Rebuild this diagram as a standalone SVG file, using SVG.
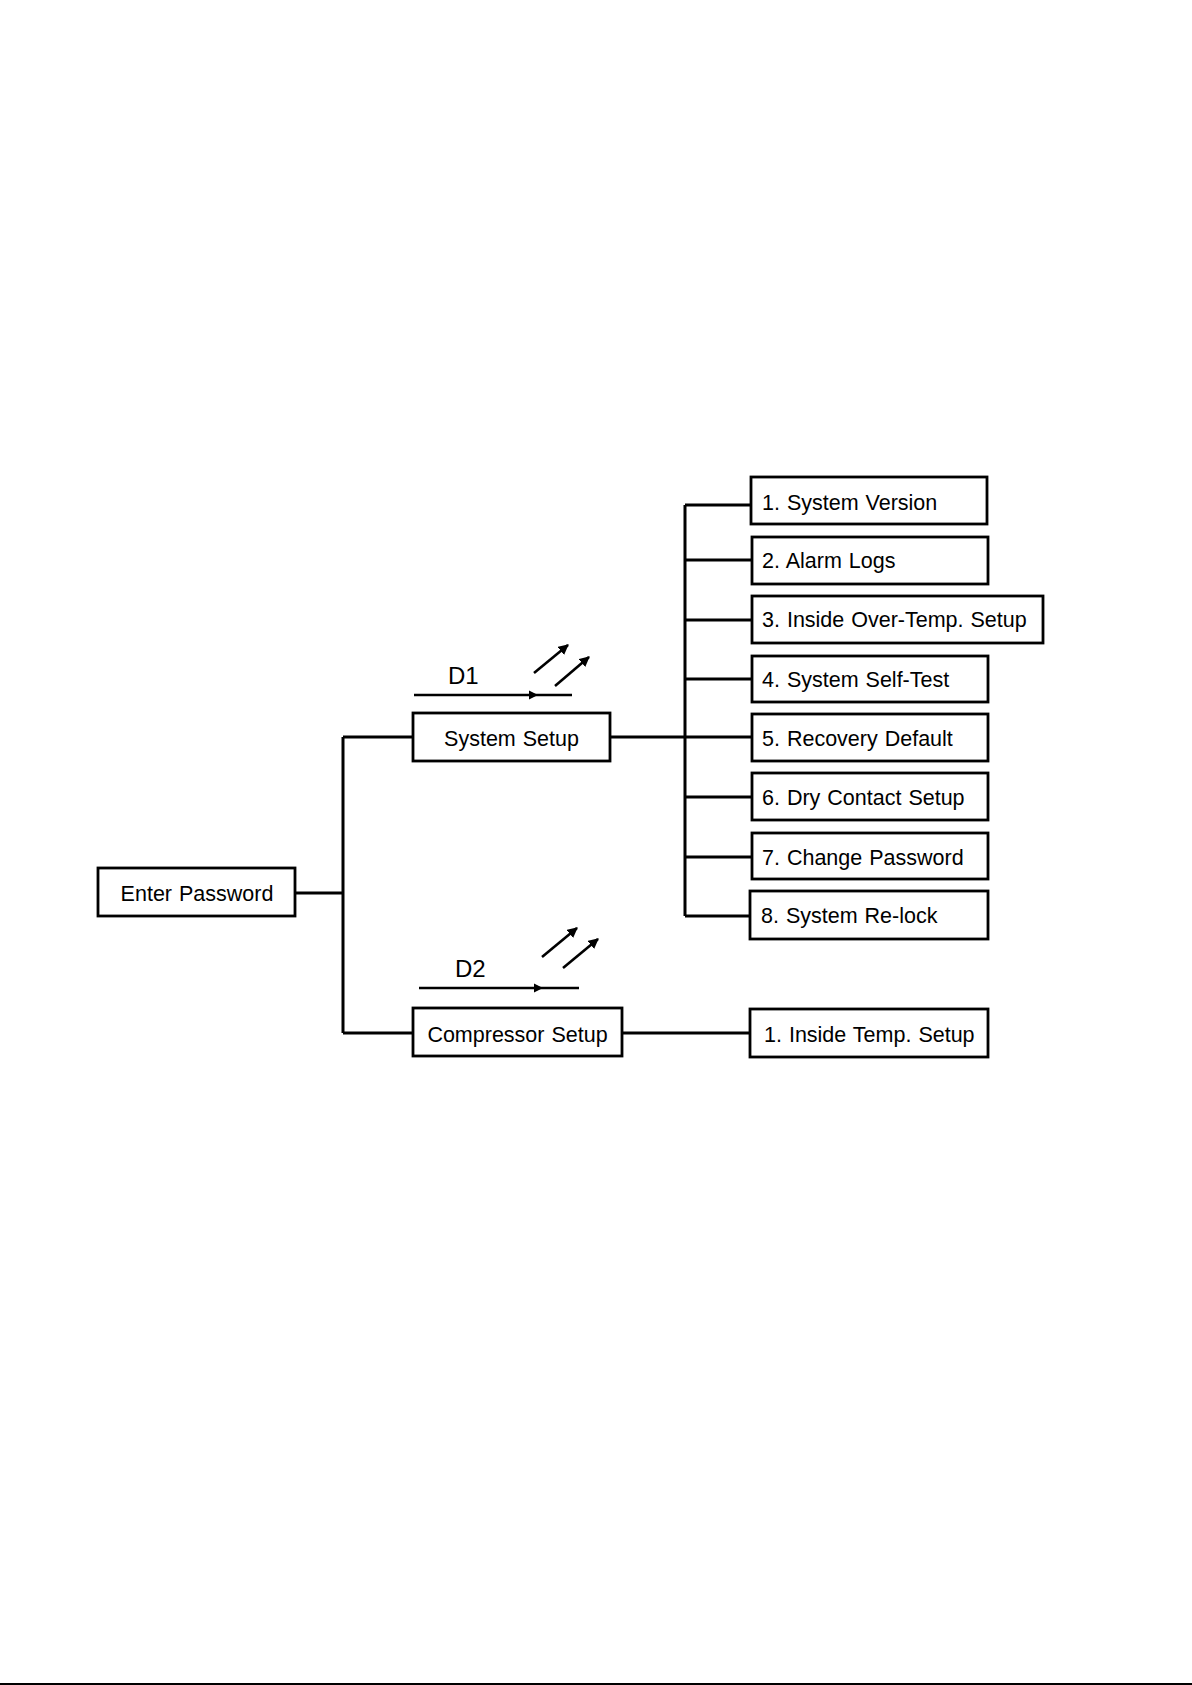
<svg xmlns="http://www.w3.org/2000/svg" width="1192" height="1685" viewBox="0 0 1192 1685">
<style>
.box{fill:#fff;stroke:#000;stroke-width:2.8}
.t{font-family:"Liberation Sans",Arial,sans-serif;font-size:21.5px;fill:#000;word-spacing:1px}
.c{text-anchor:middle}
.ln{stroke:#000;stroke-width:3;fill:none}
.thin{stroke:#000;stroke-width:2.6;fill:none}
.lbl{font-family:"Liberation Sans",Arial,sans-serif;font-size:24px;fill:#000}
</style>
<defs>
<marker id="ah" viewBox="0 0 10 10" refX="9" refY="5" markerWidth="4" markerHeight="4" orient="auto" markerUnits="strokeWidth">
<path d="M0,0 L10,5 L0,10 z" fill="#000"/>
</marker>
</defs>
<rect width="1192" height="1685" fill="#fff"/>
<g id="connectors">
<path class="ln" d="M295,893 H343 M343,737 V1033 M343,737 H413 M343,1033 H413"/>
<path class="ln" d="M610,737 H751 M685,505 V916"/>
<path class="ln" d="M685,505 H751 M685,560 H752 M685,620 H752 M685,679 H752 M685,797 H752 M685,857 H752 M685,916 H750"/>
<path class="ln" d="M622,1033 H750"/>
</g>
<g id="d1">
<line class="thin" x1="414" y1="695" x2="572" y2="695"/>
<path d="M529,690.5 L538,695 L529,699.5 z" fill="#000"/>
<line class="thin" x1="534" y1="673" x2="568" y2="645" marker-end="url(#ah)"/>
<line class="thin" x1="555" y1="686" x2="589" y2="657" marker-end="url(#ah)"/>
<text class="lbl" x="448" y="684">D1</text>
</g>
<g id="d2">
<line class="thin" x1="419" y1="988" x2="579" y2="988"/>
<path d="M534,983.5 L543,988 L534,992.5 z" fill="#000"/>
<line class="thin" x1="542" y1="957" x2="577" y2="928" marker-end="url(#ah)"/>
<line class="thin" x1="563" y1="968" x2="598" y2="939" marker-end="url(#ah)"/>
<text class="lbl" x="455" y="977">D2</text>
</g>
<g id="enter-password">
<rect class="box" x="98" y="868" width="197" height="48"/>
<text class="t c" x="197" y="901">Enter Password</text>
</g>
<g id="system-setup">
<rect class="box" x="413" y="713" width="197" height="48"/>
<text class="t c" x="511.5" y="746">System Setup</text>
</g>
<g id="compressor-setup">
<rect class="box" x="413" y="1008" width="209" height="48"/>
<text class="t c" x="517.5" y="1042">Compressor Setup</text>
</g>
<g id="n1">
<rect class="box" x="751" y="477" width="236" height="47"/>
<text class="t" x="762" y="510">1. System Version</text>
</g>
<g id="n2">
<rect class="box" x="752" y="537" width="236" height="47"/>
<text class="t" x="762" y="568">2. Alarm Logs</text>
</g>
<g id="n3">
<rect class="box" x="752" y="596" width="291" height="47"/>
<text class="t" x="762" y="627">3. Inside Over-Temp. Setup</text>
</g>
<g id="n4">
<rect class="box" x="752" y="656" width="236" height="46"/>
<text class="t" x="762" y="687">4. System Self-Test</text>
</g>
<g id="n5">
<rect class="box" x="752" y="714" width="236" height="47"/>
<text class="t" x="762" y="746">5. Recovery Default</text>
</g>
<g id="n6">
<rect class="box" x="752" y="773" width="236" height="47"/>
<text class="t" x="762" y="805">6. Dry Contact Setup</text>
</g>
<g id="n7">
<rect class="box" x="752" y="833" width="236" height="46"/>
<text class="t" x="762" y="865">7. Change Password</text>
</g>
<g id="n8">
<rect class="box" x="750" y="891" width="238" height="48"/>
<text class="t" x="761" y="923">8. System Re-lock</text>
</g>
<g id="c1">
<rect class="box" x="750" y="1009" width="238" height="48"/>
<text class="t" x="764" y="1042">1. Inside Temp. Setup</text>
</g>
<line x1="0" y1="1684" x2="1192" y2="1684" stroke="#000" stroke-width="2"/>
</svg>
